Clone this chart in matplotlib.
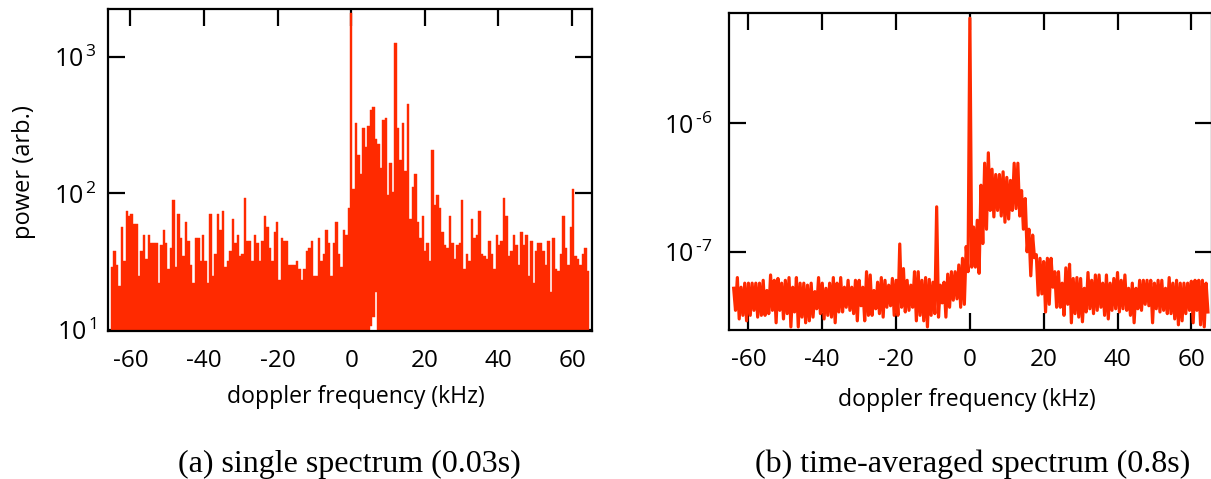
import numpy as np
import matplotlib
matplotlib.use("Agg")
import matplotlib.pyplot as plt

# --- Data ---
# single spectrum: one value per bin, below and above the 0 kHz line
single_below = [29, 38, 30, 21, 57, 32, 75, 68, 71, 60,
                60, 25, 38, 50, 33, 50, 43, 43, 43, 22,
                42, 54, 43, 28, 40, 90, 29, 71, 47, 35,
                62, 45, 30, 22, 47, 47, 32, 50, 32, 22,
                71, 25, 36, 71, 54, 75, 29, 32, 38, 65,
                43, 50, 35, 36, 93, 45, 45, 32, 50, 43,
                32, 45, 68, 57, 40, 32, 52, 62, 23, 47,
                45, 45, 30, 30, 30, 32, 28, 23, 28, 38,
                40, 45, 25, 25, 47, 32, 36, 54, 43, 25,
                43, 62, 36, 29, 54, 50, 78]
single_peak = [2100]
single_above = [107, 330, 190, 140, 300, 220, 315, 412, 430, 250,
                230, 153, 345, 360, 98, 168, 102, 1270, 300, 175,
                330, 146, 450, 65, 112, 140, 62, 47, 68, 38,
                43, 32, 210, 82, 98, 78, 52, 42, 40, 68,
                43, 33, 42, 43, 90, 28, 36, 32, 65, 47,
                50, 75, 36, 35, 33, 45, 36, 28, 50, 42,
                45, 93, 68, 35, 38, 50, 42, 30, 52, 42,
                50, 25, 45, 22, 38, 43, 43, 38, 30, 45,
                19, 47, 28, 27, 36, 68, 40, 30, 57, 107,
                35, 33, 30, 36, 40, 27]
# bins above 0 kHz whose fill stops short of the floor
single_dips = {8: 10.6, 9: 12.5, 10: 19}
bin_khz = 0.67

# averaged spectrum, in units of 1e-8: high/low pairs, one pair per kHz
avg_below = [5.2, 3.5, 6.3, 3.0, 5.3, 3.2, 5.7, 2.9, 5.7, 3.2, 5.7, 3.5, 5.7, 3.1, 5.7, 3.2,
             6.0, 3.2, 5.0, 3.3, 6.6, 3.5, 6.0, 2.8, 6.2, 3.5, 5.7, 3.0, 6.0, 3.3, 6.3, 2.6,
             5.3, 3.4, 6.3, 2.6, 5.7, 3.1, 5.7, 2.8, 5.5, 2.9, 5.7, 3.1, 4.9, 3.6, 6.3, 3.3,
             5.7, 3.0, 5.2, 3.2, 5.7, 3.1, 6.3, 2.8, 5.7, 3.4, 6.3, 3.4, 5.3, 3.7, 6.0, 3.5,
             5.3, 3.3, 6.0, 2.9, 6.0, 3.8, 5.3, 2.9, 7.0, 3.2, 6.6, 3.2, 5.0, 3.6, 5.8, 3.3,
             6.3, 3.1, 6.0, 3.7, 5.5, 3.8, 6.2, 3.2, 6.0, 3.2, 11.5, 3.7, 7.4, 3.4, 6.0, 3.5,
             5.5, 3.7, 7.0, 2.9, 7.0, 3.2, 6.0, 2.9, 6.3, 2.6, 6.1, 3.2, 5.8, 3.3, 22.4, 3.1,
             5.5, 4.0, 5.8, 3.1, 6.7, 3.7, 7.0, 4.2, 7.0, 4.3, 7.9, 3.7, 8.9, 3.9, 11.0, 7.0]
avg_peak = [660, 7.6]
avg_above = [15.6, 7.6, 17.6, 6.8, 33, 11.6, 49, 15, 59, 21, 44, 18.7, 40, 21, 40, 19,
             42, 17, 38, 18, 36, 21, 49, 21.7, 49, 19, 30, 15, 26, 10, 15, 6.5,
             13.5, 9, 9.5, 4.6, 8.9, 4.7, 8.4, 3.4, 8.9, 3.9, 8.9, 5.3, 7.0, 3.7, 7.0, 3.7,
             5.7, 3.2, 7.5, 3.9, 8.0, 2.8, 6.2, 3.3, 6.3, 3.1, 6.2, 2.85, 5.2, 3.4, 6.9, 3.6,
             6.0, 3.3, 6.6, 3.5, 6.6, 3.7, 5.7, 3.2, 6.6, 3.0, 5.7, 3.5, 6.2, 3.6, 6.9, 3.4,
             6.0, 3.6, 6.6, 3.5, 5.2, 3.2, 5.7, 2.8, 5.2, 3.6, 6.0, 3.5, 6.0, 3.9, 6.0, 3.8,
             6.0, 2.8, 5.7, 3.6, 6.0, 3.4, 6.0, 3.5, 5.2, 3.3, 6.3, 3.3, 5.7, 3.0, 6.0, 2.7,
             5.7, 2.9, 5.7, 3.3, 5.7, 3.5, 5.9, 2.8, 6.0, 3.5, 6.0, 2.7, 6.0, 2.6, 5.7, 3.4]
avg_step_khz = 0.5

x_ticks = [-60, -40, -20, 0, 20, 40, 60]
left_yticks = [10, 100, 1000]
left_ylabels = [r"$\mathregular{10^{\,1}}$", r"$\mathregular{10^{\,2}}$", r"$\mathregular{10^{\,3}}$"]
right_yticks = [1e-7, 1e-6]
right_ylabels = [r"$\mathregular{10^{\,\text{-7}}}$", r"$\mathregular{10^{\,\text{-6}}}$"]

RED = "#ff2a00"
W, H = 1211, 479
plt.rcParams["font.family"] = ["Open Sans", "DejaVu Sans"]
plt.rcParams["mathtext.fontset"] = "custom"
plt.rcParams["mathtext.rm"] = "Open Sans"
plt.rcParams["axes.unicode_minus"] = False
plt.rcParams["mathtext.default"] = "regular"


# axes placed by pixel edges of the reference
def px_axes(fig, x0, x1, y_top, y_bot):
    return fig.add_axes([x0 / W, 1 - y_bot / H, (x1 - x0) / W, (y_bot - y_top) / H])


def style(ax, yticks, ylabels, ypad):
    ax.set_yscale("log")
    ax.set_xticks(x_ticks)
    ax.set_yticks(yticks)
    ax.set_yticklabels(ylabels)
    ax.minorticks_off()
    ax.set_axisbelow(True)
    ax.tick_params(which="major", direction="in", top=True, right=True, length=12.5,
                   width=1.6, labelsize=17.5, pad=13, color="black")
    ax.tick_params(axis="y", labelsize=18, pad=ypad)
    for s in ax.spines.values():
        s.set_linewidth(1.6)


fig = plt.figure(figsize=(W / 100, H / 100), dpi=100)

# --- (a) single spectrum ---
ax1 = px_axes(fig, 107.5, 592, 9, 331)
values = np.array(single_below + single_peak + single_above, dtype=float)
n0 = len(single_below)
freqs = (np.arange(len(values)) - n0) * bin_khz
floors = np.full(len(values), 5.0)
for idx, low in single_dips.items():
    floors[n0 + idx] = low
ax1.bar(freqs, values - floors, bottom=floors, width=bin_khz, color=RED, edgecolor=RED, linewidth=0.3)
style(ax1, left_yticks, left_ylabels, 8)
ax1.set_xlim(-66.2, 65.4)
ax1.set_ylim(9.8, 2256)

# --- (b) time-averaged spectrum ---
ax2 = px_axes(fig, 728.5, 1212, 12.5, 330)
avg = np.array(avg_below + avg_peak + avg_above) * 1e-8
avg_freqs = -64 + np.arange(len(avg)) * avg_step_khz
ax2.plot(avg_freqs, avg, color=RED, lw=2.3)
style(ax2, right_yticks, right_ylabels, 11.5)
ax2.set_xlim(-65.4, 65.6)
ax2.set_ylim(10 ** -7.609, 10 ** -5.136)

# --- labels ---
fig.text(356 / W, 1 - 397 / H, "doppler frequency (kHz)", fontsize=16.6, ha="center", va="center")
fig.text(967 / W, 1 - 400 / H, "doppler frequency (kHz)", fontsize=16.6, ha="center", va="center")
fig.text(24 / W, 1 - 172 / H, "power (arb.)", fontsize=17, rotation=90, ha="center", va="center")
fig.text(349 / W, 1 - 464 / H, "(a) single spectrum (0.03s)", fontsize=23, family="Liberation Serif",
         ha="center", va="center")
fig.text(973 / W, 1 - 464 / H, "(b) time-averaged spectrum (0.8s)", fontsize=23, family="Liberation Serif",
         ha="center", va="center")

fig.savefig("out.png", dpi=100)
